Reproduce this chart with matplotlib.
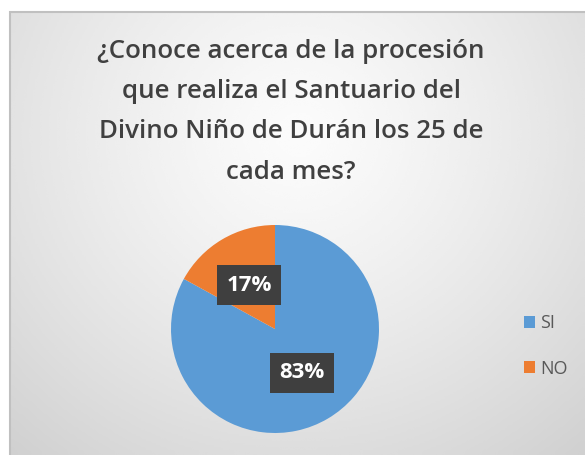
import matplotlib.pyplot as plt
import numpy as np
from matplotlib.patches import Rectangle

# data
categories = ['SI', 'NO']
values = [83, 17]
colors = ['#5B9BD5', '#ED7D31']
title = ('¿Conoce acerca de la procesión\nque realiza el Santuario del\n'
         'Divino Niño de Durán los 25 de\ncada mes?')

W, H = 585, 455
fig = plt.figure(figsize=(W / 100, H / 100), dpi=100)
fig.patch.set_facecolor('white')

# background panel with radial gradient
x0, y0 = 10, 12  # top-left of chart panel in px
bg = fig.add_axes([x0 / W, 0, 1 - x0 / W, 1 - y0 / H])
bg.set_axis_off()
yy, xx = np.mgrid[0:200, 0:260]
cx, cy = 130, 55
r = np.sqrt(((xx - cx) / 200.0) ** 2 + ((yy - cy) / 190.0) ** 2)
shade = 0.985 - 0.17 * np.clip(r, 0, 1) ** 1.3
bg.imshow(shade, cmap='gray', vmin=0, vmax=1, aspect='auto',
          extent=[0, 1, 1, 0], interpolation='bicubic')
bg.set_xlim(0, 1)
bg.set_ylim(1, 0)
# only left and top edges are inside the picture
bg.add_patch(Rectangle((0, -0.2), 1.2, 1.2, fill=False, edgecolor='#c0c0c0',
                       linewidth=1.5, transform=bg.transAxes, clip_on=False))

fig.text(291 / W, 1 - 39 / H, title, ha='center', va='top',
         fontsize=18.6, color='#404040', family='Open Sans', weight='semibold',
         linespacing=1.8)

# pie
pc_x, pc_y, rad = 275, 329, 104
ax = fig.add_axes([(pc_x - rad) / W, 1 - (pc_y + rad) / H, 2 * rad / W, 2 * rad / H])
wedges, _ = ax.pie(values, colors=colors, startangle=90, counterclock=False,
                   wedgeprops=dict(linewidth=0))
ax.set_aspect('auto')
ax.set_xlim(-1, 1)
ax.set_ylim(-1, 1)

label_pos = [(0.26, -0.42), (-0.25, 0.42)]
for v, (lx, ly) in zip(values, label_pos):
    ax.text(lx, ly, f'{v}%', ha='center', va='center', fontsize=16,
            color='white', weight='bold', family='Open Sans',
            bbox=dict(boxstyle='square,pad=0.42', facecolor='#3f3f3f',
                      edgecolor='none'))

# legend
leg = fig.legend(wedges, categories, loc='center left',
                 bbox_to_anchor=(508 / W, 1 - 346 / H), frameon=False,
                 handlelength=0.6, handleheight=0.6,
                 handletextpad=0.3, labelspacing=1.5,
                 prop=dict(family='Open Sans', size=13))
for t in leg.get_texts():
    t.set_color('#595959')

fig.savefig('out.png', dpi=100)
